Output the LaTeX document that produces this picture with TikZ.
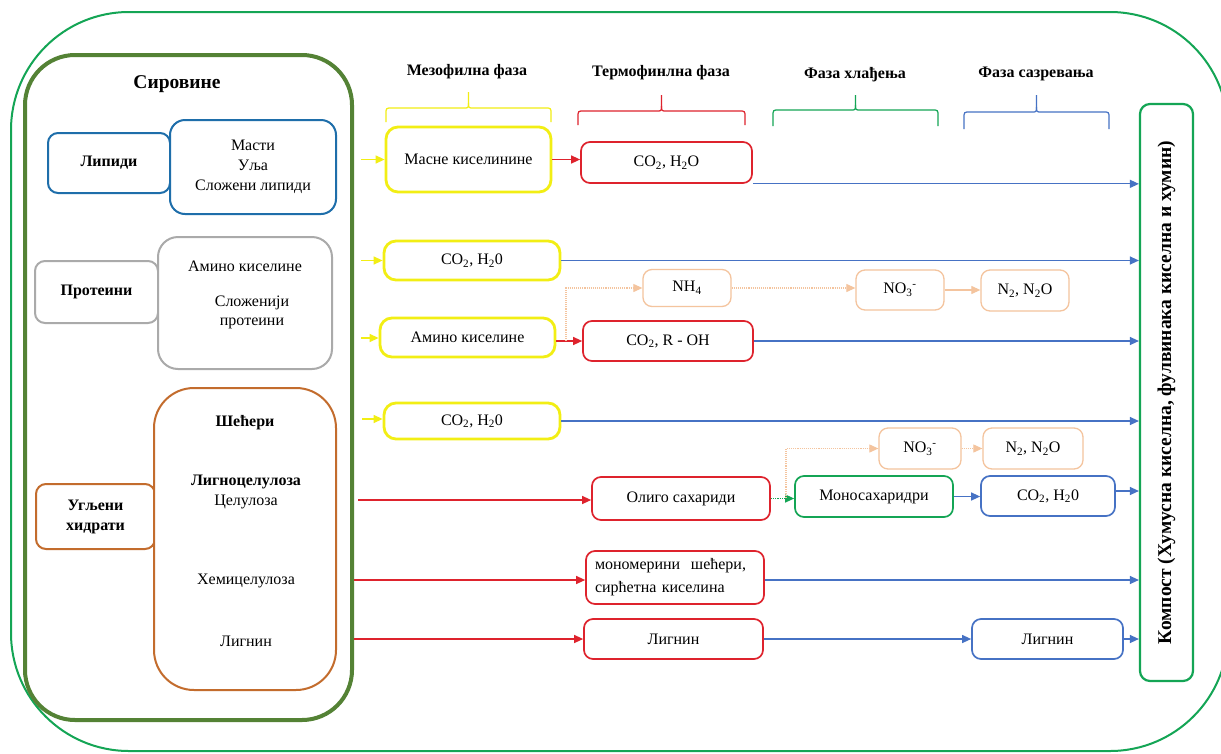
\documentclass[tikz,border=0pt]{standalone}
\usepackage{fontspec}
\setmainfont{Liberation Serif}
\usetikzlibrary{arrows.meta,calc}
\definecolor{cyel}{RGB}{242,238,20}
\definecolor{cred}{RGB}{222,35,45}
\definecolor{cblu}{RGB}{70,114,196}
\definecolor{clblu}{RGB}{30,110,170}
\definecolor{cpea}{RGB}{244,196,158}
\definecolor{cgrn}{RGB}{20,165,85}
\definecolor{colv}{RGB}{84,130,53}
\definecolor{cbrn}{RGB}{195,108,45}
\definecolor{cgry}{RGB}{170,170,170}
\newcommand{\fz}[2]{\fontsize{#1pt}{#2pt}\selectfont}
\newcommand{\phbrace}[6]{%
  \pgfmathsetmacro{\phbxm}{(#2+#3)/2}
  \draw[#1, line width=1.2pt] (#2,#4) -- (#2,#5+6) .. controls (#2,#5) .. (#2+6,#5) -- (\phbxm-5,#5) .. controls (\phbxm,#5) .. (\phbxm,#5-5) -- (\phbxm,#6);
  \draw[#1, line width=1.2pt] (#3,#4) -- (#3,#5+6) .. controls (#3,#5) .. (#3-6,#5) -- (\phbxm+5,#5) .. controls (\phbxm,#5) .. (\phbxm,#5-5);
}
\tikzset{
  bx/.style={draw, rounded corners=9pt, align=center, inner sep=2pt, fill=white, font=\fz{16}{20}},
  ybx/.style={bx, draw=cyel, line width=2.8pt, rounded corners=12pt},
  rbx/.style={bx, draw=cred, line width=1.7pt},
  bbx/.style={bx, draw=cblu, line width=1.7pt},
  pbx/.style={bx, draw=cpea, line width=1.3pt},
  gbx/.style={bx, draw=cgrn, line width=1.7pt},
  txt/.style={inner sep=0pt, align=center, font=\fz{16}{20}},
  btxt/.style={inner sep=0pt, align=center, font=\fz{16}{20}\bfseries},
  hdr/.style={inner sep=0pt, font=\fz{16}{19}\bfseries},
  tip/.style={-{Triangle[length=9pt,width=8pt]}},
  yarr/.style={tip, draw=cyel, line width=1.3pt},
  rarr/.style={tip, draw=cred, line width=1.3pt},
  barr/.style={tip, draw=cblu, line width=1.2pt},
  garr/.style={tip, draw=cgrn, line width=1.2pt, densely dotted},
  parr/.style={tip, draw=cpea, line width=1.1pt, densely dotted},
}
\begin{document}
\begin{tikzpicture}[x=1pt,y=-1pt]
\useasboundingbox (0,0) rectangle (1221,753);
\fill[white] (0,0) rectangle (1221,753);
% outer frame
\draw[cgrn, line width=2pt, rounded corners=118pt] (11,12) rectangle (1228,751);

% raw materials
\node[draw=colv, line width=4pt, rounded corners=50pt, fill=white, minimum width=327pt, minimum height=665pt] (sir) at (188.5,387.5) {};
\node[inner sep=0pt, font=\fz{19.5}{22}\bfseries] (sirt) at (177,84) {Сировине};

\node[bx, draw=clblu, line width=2pt, rounded corners=10pt, minimum width=122pt, minimum height=60pt, font=\fz{16}{20}\bfseries] (lip1) at (109,163) {Липиди};
\node[bx, draw=clblu, line width=2pt, rounded corners=15pt, minimum width=166pt, minimum height=94pt] (lip2) at (253,167) {Масти\\Уља\\Сложени липиди};

\node[bx, draw=cgry, line width=2pt, rounded corners=10pt, minimum width=123pt, minimum height=62pt, font=\fz{16}{20}\bfseries] (pro1) at (96.5,292) {Протеини};
\node[bx, draw=cgry, line width=2pt, rounded corners=20pt, minimum width=174pt, minimum height=132pt] (pro2) at (245,303) {};
\node[txt] (proa) at (245,266) {Амино киселине};
\node[txt] (prob) at (252,303) {Сложенији};
\node[txt] (proc) at (252,323) {протеини};

\node[bx, draw=cbrn, line width=2pt, rounded corners=10pt, minimum width=119pt, minimum height=65pt, font=\fz{16}{20}\bfseries] (car1) at (95.5,516.5) {Угљени\\хидрати};
\node[bx, draw=cbrn, line width=2pt, rounded corners=40pt, minimum width=182pt, minimum height=302pt] (car2) at (245,539) {};
\node[btxt] (cara) at (245,423) {Шећери};
\node[btxt] (carb) at (246,482) {Лигноцелулоза};
\node[txt] (carc) at (246,502) {Целулоза};
\node[txt] (card) at (246,581) {Хемицелулоза};
\node[txt] (care) at (246,641) {Лигнин};

% phase headers and braces
\node[hdr] (h1) at (467,72) {Мезофилна фаза};
\node[hdr] (h2) at (661,73) {Термофинлна фаза};
\node[hdr] (h3) at (855,75) {Фаза хлађења};
\node[hdr] (h4) at (1036,74) {Фаза сазревања};
\phbrace{cyel}{386}{551}{122}{108}{92}
\phbrace{cred}{578}{745}{125}{111}{95}
\phbrace{cgrn}{773}{938}{126}{110}{95}
\phbrace{cblu}{964}{1109}{129}{112}{95}

% compost
\node[draw=cgrn, line width=2.2pt, rounded corners=10pt, fill=white, minimum width=53pt, minimum height=577pt] (comp) at (1166.5,392.5) {};
\node[rotate=90, inner sep=0pt, font=\fz{19.5}{22}\bfseries] (compt) at (comp.center) {Компост (Хумусна киселна, фулвинака киселна и хумин)};

% row 1
\node[ybx, minimum width=165pt, minimum height=65pt] (m1) at (468.5,159.5) {Масне киселинине};
\node[rbx, minimum width=171pt, minimum height=41pt] (t1) at (666.5,162.5) {CO\textsubscript{2}, H\textsubscript{2}O};
\coordinate (y1) at (361,159.5);
\draw[yarr] (y1) -- (m1.west);
\draw[rarr] (m1.east) -- (m1.east -| t1.west);
\draw[barr] (t1.south east) -- (t1.south east -| comp.west);

% row 2
\node[ybx, minimum width=176pt, minimum height=39pt] (m2) at (472,260.5) {CO\textsubscript{2}, H\textsubscript{2}0};
\coordinate (y2) at (361,260.5);
\draw[yarr] (y2) -- (m2.west);
\draw[barr] (m2.east) -- (m2.east -| comp.west);

% row 3
\node[ybx, minimum width=175pt, minimum height=39pt] (m3) at (467.5,337.5) {Амино киселине};
\node[rbx, minimum width=170pt, minimum height=40pt] (t3) at (668,341) {CO\textsubscript{2}, R - OH};
\node[pbx, minimum width=88pt, minimum height=37pt] (n1) at (687,288) {NH\textsubscript{4}};
\node[pbx, minimum width=88pt, minimum height=40pt] (n2) at (900,290) {NO\textsubscript{3}\textsuperscript{-}};
\node[pbx, minimum width=88pt, minimum height=41pt] (n3) at (1025,290.5) {N\textsubscript{2}, N\textsubscript{2}O};
\coordinate (y3) at (361,338);
\draw[yarr] (y3) -- (y3 -| m3.west);
\draw[rarr] (m3.east |- t3.west) -- (t3.west);
\coordinate (j1) at (566,341);
\draw[parr] (j1) |- (n1.west);
\draw[parr] (n1.east) -- (n1.east -| n2.west);
\draw[parr, solid] (n2.east) -- (n2.east -| n3.west);
\draw[barr] (t3.east) -- (t3.east -| comp.west);

% row 4
\node[ybx, minimum width=176pt, minimum height=36pt] (m4) at (472,421) {CO\textsubscript{2}, H\textsubscript{2}0};
\coordinate (y4) at (362,419);
\draw[yarr] (y4) -- (y4 -| m4.west);
\draw[barr] (m4.east) -- (m4.east -| comp.west);

% row 5
\node[rbx, minimum width=178pt, minimum height=43pt] (o1) at (681,498.5) {Олиго сахариди};
\node[gbx, minimum width=158pt, minimum height=41pt] (g1) at (874,496.5) {Моносахаридри};
\node[pbx, minimum width=82pt, minimum height=41pt] (n4) at (920,448.5) {NO\textsubscript{3}\textsuperscript{-}};
\node[pbx, minimum width=100pt, minimum height=41pt] (n5) at (1033,448.5) {N\textsubscript{2}, N\textsubscript{2}O};
\node[bbx, minimum width=134pt, minimum height=40pt] (b1) at (1048,496) {CO\textsubscript{2}, H\textsubscript{2}0};
\coordinate (r5) at (358,500);
\draw[rarr] (r5) -- (r5 -| o1.west);
\draw[garr] (o1.east) -- (o1.east -| g1.west);
\coordinate (j2) at (786,498);
\draw[parr] (j2) |- (n4.west);
\draw[parr] (n4.east) -- (n4.east -| n5.west);
\draw[barr] (g1.east) -- (g1.east -| b1.west);
\draw[barr] ($(b1.east)+(0,-5)$) -- ($(b1.east -| comp.west)+(0,-5)$);

% row 6
\node[rbx, minimum width=178pt, minimum height=53pt, align=left, text width=160pt, font=\fz{16}{23}] (t5) at (675,577.5) {мономерини~ шећери,\\сирћетна киселина};
\draw[rarr] (sir.east |- 0,580) -- (t5.west |- 0,580);
\draw[barr] (t5.east |- 0,580) -- (comp.west |- 0,580);

% row 7
\node[rbx, minimum width=179pt, minimum height=40pt] (t6) at (673.5,639) {Лигнин};
\node[bbx, minimum width=151pt, minimum height=40pt] (b2) at (1047.5,639) {Лигнин};
\draw[rarr] (sir.east |- t6.west) -- (t6.west);
\draw[barr] (t6.east) -- (b2.west);
\draw[barr] (b2.east) -- (b2.east -| comp.west);
\end{tikzpicture}
\end{document}
